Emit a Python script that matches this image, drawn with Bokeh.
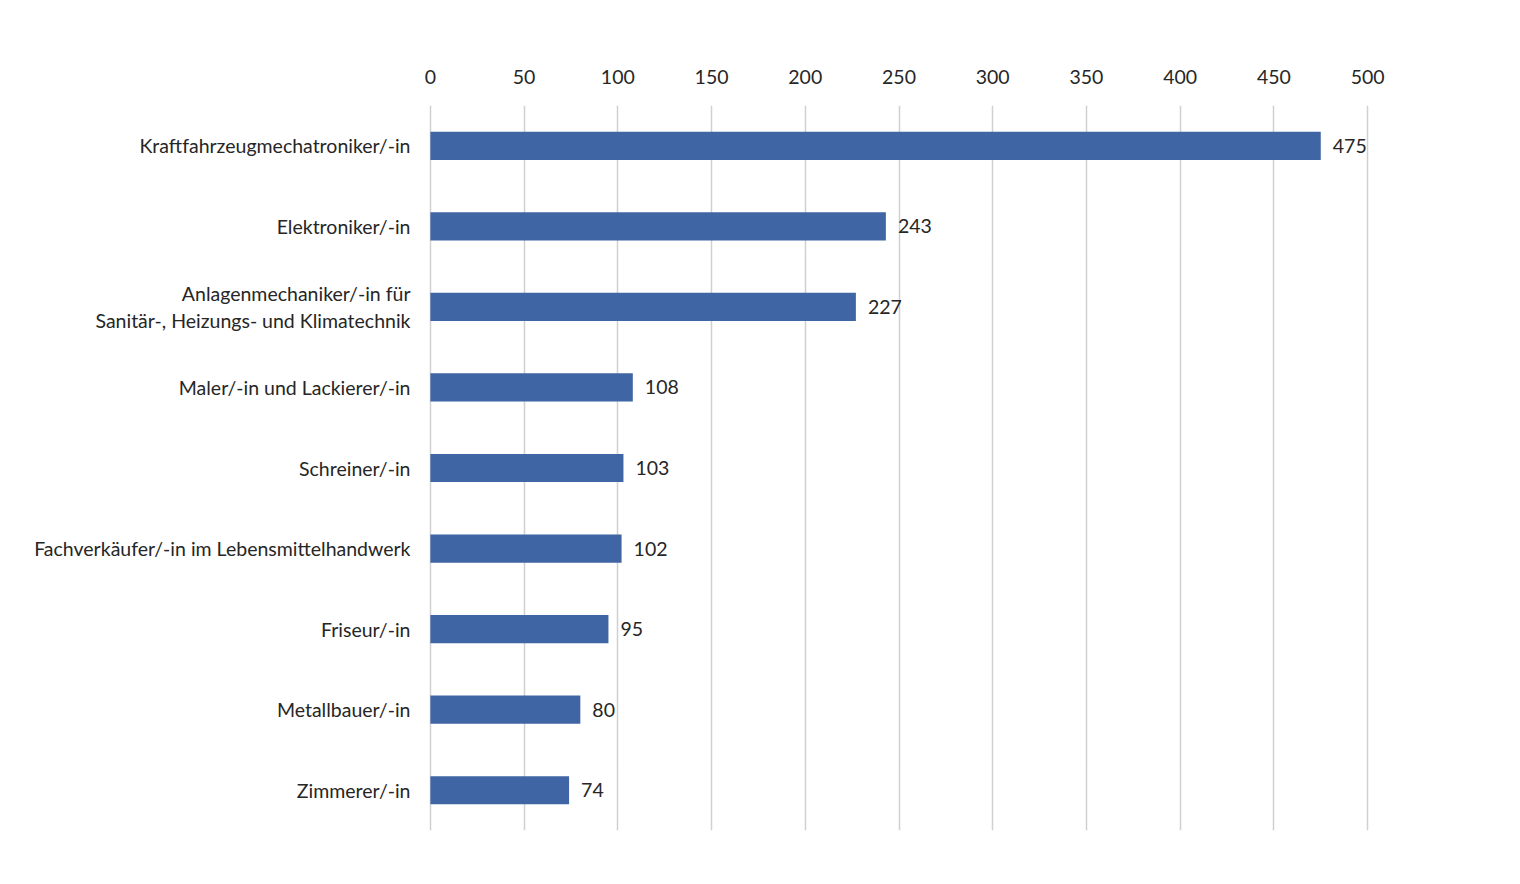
from bokeh.plotting import figure
from bokeh.models import Range1d, ColumnDataSource, FixedTicker
from bokeh.core.properties import value
from bokeh.embed import file_html
from bokeh.resources import INLINE

categories = [
    "Kraftfahrzeugmechatroniker/-in",
    "Elektroniker/-in",
    "Anlagenmechaniker/-in für\nSanitär-, Heizungs- und Klimatechnik",
    "Maler/-in und Lackierer/-in",
    "Schreiner/-in",
    "Fachverkäufer/-in im Lebensmittelhandwerk",
    "Friseur/-in",
    "Metallbauer/-in",
    "Zimmerer/-in",
]
values = [475, 243, 227, 108, 103, 102, 95, 80, 74]
x_ticks = [0, 50, 100, 150, 200, 250, 300, 350, 400, 450, 500]

FONT = "Lato"
TEXT_COLOR = "#262626"
BAR_COLOR = "#4065a4"

source = ColumnDataSource(data=dict(
    cat=categories,
    val=values,
    lbl=[str(v) for v in values],
))

p = figure(
    width=1512, height=876,
    y_range=list(reversed(categories)),
    x_range=Range1d(-1, 501),
    output_backend="svg",
    toolbar_location=None,
    x_axis_location="above",
    min_border_left=428, min_border_right=143,
    min_border_top=105, min_border_bottom=46,
)
p.y_range.range_padding = 0

p.hbar(y="cat", right="val", left=0, height=0.35, source=source,
       fill_color=BAR_COLOR, line_color=None)

p.text(x="val", y="cat", text="lbl", source=source,
       x_offset=12, text_align="left", text_baseline="middle",
       text_font=value(FONT), text_font_size="19.5px", text_color=TEXT_COLOR)

p.xaxis.ticker = FixedTicker(ticks=x_ticks)
for ax in (p.xaxis[0], p.yaxis[0]):
    ax.axis_line_color = None
    ax.major_tick_line_color = None
    ax.minor_tick_line_color = None
    ax.major_label_text_font = FONT
    ax.major_label_text_font_size = "19.5px"
    ax.major_label_text_color = TEXT_COLOR
p.xaxis.major_label_standoff = 16
p.yaxis.major_label_standoff = 12

p.xgrid.ticker = FixedTicker(ticks=x_ticks)
p.xgrid.grid_line_color = "#d0d0d0"
p.xgrid.grid_line_width = 1.5
p.ygrid.grid_line_color = None
p.outline_line_color = None
p.background_fill_color = "white"
p.border_fill_color = "white"

open("out.html", "w").write(file_html(p, INLINE))
